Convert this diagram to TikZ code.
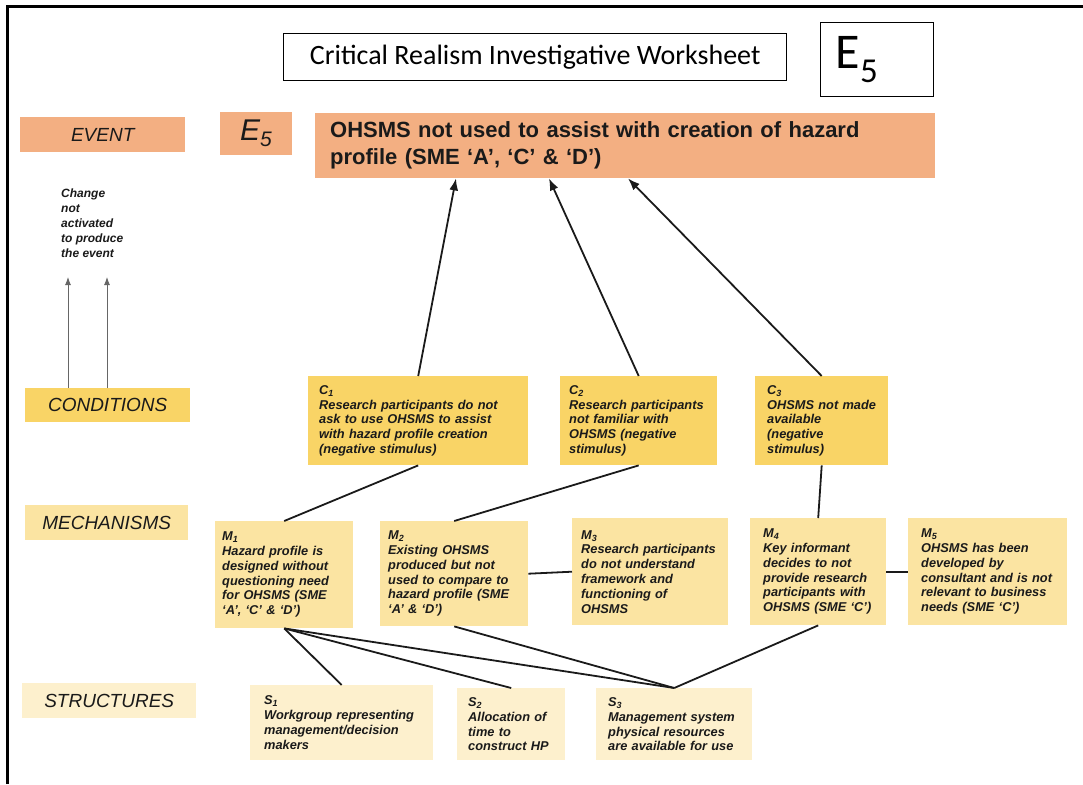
\documentclass[tikz,border=0pt]{standalone}
\usepackage{fontspec}
\setmainfont{Liberation Sans}
\newfontfamily\calibri{Carlito}
\usetikzlibrary{arrows.meta,calc}
\definecolor{ink}{HTML}{1A1A1A}
\definecolor{evfill}{HTML}{F3AF82}
\definecolor{cfill}{HTML}{F9D466}
\definecolor{mfill}{HTML}{FBE4A2}
\definecolor{sfill}{HTML}{FDF0CD}

\begin{document}
\hyphenpenalty=10000
\exhyphenpenalty=10000
\begin{tikzpicture}[x=1pt,y=-1pt,
  blk/.style={anchor=north west, inner ysep=0pt, text=ink, align=left},
  rowlabel/.style={anchor=north west, inner sep=0pt, text=ink, align=center,
    font=\fontsize{19}{22}\selectfont\itshape},
  note/.style={blk, font=\fontsize{12.8}{14.8}\selectfont\bfseries\itshape},
  link/.style={line width=1.8pt, draw=ink},
  arr/.style={link, -{Latex[length=12pt,width=9pt]}},
  thinarr/.style={line width=0.9pt, draw=black!60, -{Latex[length=8pt,width=6pt]}}]

\useasboundingbox (0,0) rectangle (1083,784);

% sheet frame
\draw[line width=3pt, draw=black] (7,784) -- (7,7) -- (1083,7);

% heading
\node[anchor=north west, draw=black, line width=1.3pt, minimum width=503pt,
  minimum height=47pt, inner sep=0pt, font=\calibri\fontsize{28}{30}\selectfont]
  (title) at (283,33) {Critical Realism Investigative Worksheet};
\node[anchor=north west, draw=black, line width=1.3pt, minimum width=113pt,
  minimum height=74pt, text width=83pt, inner xsep=15pt, inner ysep=0pt, align=left,
  font=\calibri\fontsize{50}{50}\selectfont]
  (bigE) at (820,22) {E\textsubscript{5}};

% row labels
\node[rowlabel, fill=evfill, minimum width=165pt, minimum height=35pt] (lev) at (20,117) {EVENT};
\node[rowlabel, fill=cfill, minimum width=165pt, minimum height=34pt] (lcond) at (25,388) {CONDITIONS};
\node[rowlabel, fill=mfill, minimum width=163pt, minimum height=35pt] (lmech) at (25,505) {MECHANISMS};
\node[rowlabel, fill=sfill, minimum width=174pt, minimum height=35pt] (lstr) at (22,683) {STRUCTURES};

% event
\node[anchor=north west, fill=evfill, minimum width=72pt, minimum height=43pt, inner sep=0pt,
  text=ink, font=\fontsize{30}{30}\selectfont\itshape] (esmall) at (220,112) {E\textsubscript{5}};
\node[blk, fill=evfill, minimum width=618pt, minimum height=65pt, text width=590pt,
  inner xsep=15pt, font=\fontsize{22}{27}\selectfont\bfseries] (ev) at (315,113)
  {OHSMS not used to assist with creation of hazard\\profile (SME ‘A’, ‘C’ \& ‘D’)};

\node[anchor=north west, inner sep=0pt, align=left, text=ink,
  font=\fontsize{12}{15}\selectfont\bfseries\itshape] (chg) at (61,189)
  {Change\\not\\activated\\to produce\\the event};
\coordinate (chgA) at (68,277);
\coordinate (chgB) at (107,277);
\draw[thinarr] ([xshift=43pt]lcond.north west) -- (chgA);
\draw[thinarr] ([xshift=82pt]lcond.north west) -- (chgB);

% conditions
\node[note, fill=cfill, minimum width=220pt, minimum height=89pt, text width=198pt, inner xsep=11pt]
  (c1) at (308,376) {C\textsubscript{1}\\Research participants do not\\ask to use OHSMS to assist\\with hazard profile creation\\(negative stimulus)};
\node[note, fill=cfill, minimum width=157pt, minimum height=89pt, text width=139pt, inner xsep=9pt]
  (c2) at (560,376) {C\textsubscript{2}\\Research participants\\not familiar with\\OHSMS (negative\\stimulus)};
\node[note, fill=cfill, minimum width=133pt, minimum height=89pt, text width=109pt, inner xsep=12pt]
  (c3) at (755,376) {C\textsubscript{3}\\OHSMS not made\\available\\(negative\\stimulus)};

% mechanisms
\node[note, fill=mfill, minimum width=138pt, minimum height=107pt, text width=124pt, inner xsep=7pt]
  (m1) at (215,521) {M\textsubscript{1}\\Hazard profile is\\designed without\\questioning need\\for OHSMS (SME\\‘A’, ‘C’ \& ‘D’)};
\node[note, fill=mfill, minimum width=148pt, minimum height=105pt, text width=132pt, inner xsep=8pt]
  (m2) at (380,521) {M\textsubscript{2}\\Existing OHSMS\\produced but not\\used to compare to\\hazard profile (SME\\‘A’ \& ‘D’)};
\node[note, fill=mfill, minimum width=156pt, minimum height=107pt, text width=138pt, inner xsep=9pt]
  (m3) at (572,518) {M\textsubscript{3}\\Research participants\\do not understand\\framework and\\functioning of\\OHSMS};
\node[note, fill=mfill, minimum width=136pt, minimum height=107pt, text width=110pt, inner xsep=13pt]
  (m4) at (750,518) {M\textsubscript{4}\\Key informant\\decides to not\\provide research\\participants with\\OHSMS (SME ‘C’)};
\node[note, fill=mfill, minimum width=159pt, minimum height=107pt, text width=133pt, inner xsep=13pt]
  (m5) at (908,518) {M\textsubscript{5}\\OHSMS has been\\developed by\\consultant and is not\\relevant to business\\needs (SME ‘C’)};

% structures
\node[note, fill=sfill, minimum width=183pt, minimum height=75pt, text width=155pt, inner xsep=14pt]
  (s1) at (250,685) {S\textsubscript{1}\\Workgroup representing\\management/decision\\makers};
\node[note, fill=sfill, minimum width=108pt, minimum height=72pt, text width=86pt, inner xsep=11pt]
  (s2) at (457,688) {S\textsubscript{2}\\Allocation of\\time to\\construct HP};
\node[note, fill=sfill, minimum width=156pt, minimum height=72pt, text width=132pt, inner xsep=12pt]
  (s3) at (596,688) {S\textsubscript{3}\\Management system\\physical resources\\are available for use};

% conditions acting on the event
\draw[arr] (c1.north) -- ([xshift=141pt]ev.south west);
\draw[arr] (c2.north) -- ([xshift=234pt]ev.south west);
\draw[arr] (c3.north) -- ([xshift=313pt]ev.south west);

% mechanisms behind conditions
\draw[link] (c1.south) -- (m1.north);
\draw[link] (c2.south) -- (m2.north);
\draw[link] (c3.south) -- (m4.north);
\draw[link] (m2.east) -- (m3.west);
\draw[link] (m4.east) -- (m5.west);

% structures behind mechanisms
\draw[link] (m1.south) -- (s1.north);
\draw[link] (m1.south) -- (s2.north);
\draw[link] (m1.south) -- (s3.north);
\draw[link] (m2.south) -- (s3.north);
\draw[link] (m4.south) -- (s3.north);

\end{tikzpicture}
\end{document}
